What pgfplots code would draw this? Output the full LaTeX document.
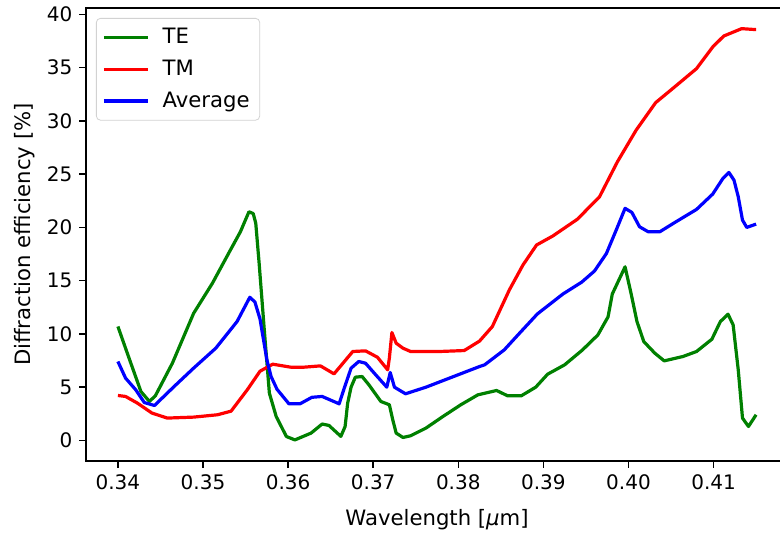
\documentclass[border=0pt]{standalone}
\usepackage{pgfplots}
\pgfplotsset{compat=1.18}
\usepackage{fontspec}
\setmainfont{DejaVu Sans}

\definecolor{mplgreen}{HTML}{008000}
\definecolor{mplred}{HTML}{FF0000}
\definecolor{mplblue}{HTML}{0000FF}

\begin{document}
\begin{tikzpicture}
  \begin{axis}[
      scale only axis,
      width=351pt, height=226.5pt,
      xmin=0.33625, xmax=0.41875,
      ymin=-1.93, ymax=40.6,
      font=\fontsize{10}{12}\selectfont,
      /pgf/number format/assume math mode=true,
      xtick={0.34,0.35,...,0.41},
      ytick={0,5,...,40},
      xticklabel style={/pgf/number format/.cd, fixed, fixed zerofill, precision=2},
      scaled x ticks=false,
      tick align=outside,
      major tick length=3.3pt,
      xtick pos=bottom, ytick pos=left,
      axis line style={line width=0.75pt},
      every tick/.style={black, line width=0.75pt},
      xlabel={Wavelength [{\itshape μ}m]},
      ylabel={Diffraction efficiency [\%]},
      xlabel style={font=\fontsize{10.6}{12.7}\selectfont, yshift=-3pt},
      ylabel style={font=\fontsize{10.6}{12.7}\selectfont, yshift=-1pt},
      legend cell align=left,
      legend style={at={(0,1)}, anchor=north west, xshift=5pt, yshift=-5pt,
        draw=gray!35, rounded corners=2pt, fill=white, fill opacity=0.8, text opacity=1,
        inner xsep=3pt, inner ysep=3pt, row sep=2.6pt,
        /tikz/every odd column/.append style={column sep=4.5pt},
        font=\fontsize{10.6}{12.7}\selectfont},
      legend image code/.code={\draw[#1] (0pt,0pt) -- (22pt,0pt);},
      every axis plot/.append style={line width=1.6pt, line join=round},
    ]
    \addplot[mplgreen] coordinates {
      (0.3400,10.7) (0.3411,8.2) (0.3427,4.6) (0.3437,3.66) (0.3444,4.19)
      (0.3464,7.25) (0.3489,11.94) (0.3511,14.75) (0.3531,17.7) (0.3544,19.6)
      (0.3554,21.47) (0.3559,21.3) (0.3562,20.4) (0.3566,16.6) (0.3572,10.4)
      (0.3578,4.44) (0.3586,2.25) (0.3598,0.37) (0.3608,0.05) (0.3627,0.69)
      (0.3640,1.54) (0.3648,1.41) (0.3662,0.38) (0.3667,1.31) (0.3670,3.5)
      (0.3674,5.0) (0.3679,5.94) (0.3687,6.0) (0.3695,5.22) (0.3709,3.66)
      (0.3719,3.35) (0.3723,1.94) (0.3727,0.69) (0.3735,0.28) (0.3744,0.44)
      (0.3762,1.16) (0.3782,2.25) (0.3803,3.35) (0.3823,4.28) (0.3845,4.69)
      (0.3858,4.19) (0.3874,4.19) (0.3891,5.0) (0.3905,6.22) (0.3925,7.1)
      (0.3946,8.5) (0.3964,9.9) (0.3976,11.6) (0.3981,13.75) (0.3996,16.3)
      (0.4003,13.82) (0.4010,11.16) (0.4018,9.28) (0.4031,8.19) (0.4042,7.47)
      (0.4064,7.88) (0.4080,8.35) (0.4098,9.5) (0.4108,11.16) (0.4117,11.85)
      (0.4123,10.85) (0.4129,6.63) (0.4134,2.1) (0.4141,1.31) (0.4150,2.41)
    };
    \addlegendentry{TE}
    \addplot[mplred] coordinates {
      (0.3400,4.22) (0.3409,4.13) (0.3423,3.5) (0.3440,2.57) (0.3458,2.1)
      (0.3489,2.19) (0.3517,2.41) (0.3533,2.75) (0.3552,4.75) (0.3567,6.5)
      (0.3582,7.16) (0.3603,6.88) (0.3619,6.88) (0.3638,7.0) (0.3654,6.25)
      (0.3676,8.35) (0.3691,8.41) (0.3705,7.81) (0.3717,6.63) (0.3719,7.72)
      (0.3722,10.13) (0.3727,9.13) (0.3735,8.66) (0.3744,8.35) (0.3778,8.35)
      (0.3807,8.44) (0.3825,9.33) (0.3840,10.69) (0.3860,14.13) (0.3876,16.47)
      (0.3892,18.35) (0.3911,19.19) (0.3940,20.77) (0.3966,22.88) (0.3987,26.16)
      (0.4009,29.13) (0.4032,31.72) (0.4052,33.04) (0.4080,34.91) (0.4099,36.94)
      (0.4112,37.97) (0.4133,38.66) (0.4150,38.57)
    };
    \addlegendentry{TM}
    \addplot[mplblue] coordinates {
      (0.3400,7.41) (0.3409,5.85) (0.3421,4.75) (0.3431,3.56) (0.3443,3.28)
      (0.3466,5.06) (0.3489,6.79) (0.3515,8.66) (0.3540,11.16) (0.3555,13.44)
      (0.3561,13.0) (0.3567,11.4) (0.3575,7.6) (0.3580,6.0) (0.3587,4.8)
      (0.3601,3.44) (0.3614,3.44) (0.3628,4.05) (0.3640,4.13) (0.3660,3.44)
      (0.3666,4.91) (0.3674,6.78) (0.3683,7.41) (0.3691,7.25) (0.3703,6.16)
      (0.3716,5.0) (0.3720,6.38) (0.3725,5.0) (0.3738,4.38) (0.3762,5.0)
      (0.3825,6.94) (0.3831,7.1) (0.3854,8.5) (0.3872,10.07) (0.3893,11.88)
      (0.3923,13.75) (0.3945,14.86) (0.3960,15.9) (0.3974,17.54) (0.3986,19.83)
      (0.3996,21.79) (0.4004,21.41) (0.4013,20.06) (0.4023,19.6) (0.4037,19.6)
      (0.4054,20.44) (0.4080,21.69) (0.4099,23.13) (0.4111,24.6) (0.4118,25.16)
      (0.4124,24.44) (0.4129,22.88) (0.4134,20.69) (0.4139,20.0) (0.4150,20.31)
    };
    \addlegendentry{Average}
  \end{axis}
  % the reference is cut just short of the right spine
  \pgfresetboundingbox
  \path[use as bounding box]
    ([xshift=-43pt,yshift=-36pt]current axis.south west) rectangle
    ([xshift=347pt,yshift=230.5pt]current axis.south west);
\end{tikzpicture}
\end{document}
